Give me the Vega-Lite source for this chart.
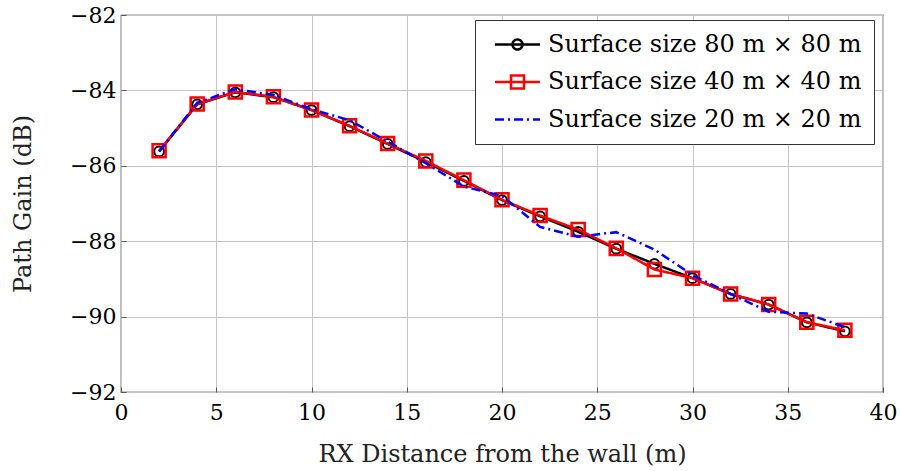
{
  "$schema": "https://vega.github.io/schema/vega-lite/v6.json",
  "width": 762,
  "height": 377,
  "autosize": {"type": "none"},
  "padding": {"left": 121, "top": 15, "right": 18, "bottom": 79},
  "background": "white",
  "config": {
    "font": "DejaVu Serif",
    "view": {"stroke": "#222", "strokeWidth": 1.2},
    "axis": {
      "labelFont": "DejaVu Serif",
      "titleFont": "DejaVu Serif",
      "labelFontSize": 22,
      "titleFontSize": 24,
      "labelColor": "#000",
      "titleColor": "#222",
      "titleFontWeight": "normal",
      "gridColor": "#c4c4c4",
      "gridWidth": 1,
      "domain": false,
      "tickColor": "#555",
      "tickSize": -5,
      "tickWidth": 1
    },
    "legend": {
      "labelFont": "DejaVu Serif",
      "labelFontSize": 24,
      "labelColor": "#000",
      "labelLimit": 0
    }
  },
  "data": {
    "values": [
      {"x": 2, "gain": -85.62, "series": "Surface size 80 m × 80 m"},
      {"x": 4, "gain": -84.37, "series": "Surface size 80 m × 80 m"},
      {"x": 6, "gain": -84.05, "series": "Surface size 80 m × 80 m"},
      {"x": 8, "gain": -84.18, "series": "Surface size 80 m × 80 m"},
      {"x": 10, "gain": -84.52, "series": "Surface size 80 m × 80 m"},
      {"x": 12, "gain": -84.95, "series": "Surface size 80 m × 80 m"},
      {"x": 14, "gain": -85.42, "series": "Surface size 80 m × 80 m"},
      {"x": 16, "gain": -85.9, "series": "Surface size 80 m × 80 m"},
      {"x": 18, "gain": -86.4, "series": "Surface size 80 m × 80 m"},
      {"x": 20, "gain": -86.91, "series": "Surface size 80 m × 80 m"},
      {"x": 22, "gain": -87.34, "series": "Surface size 80 m × 80 m"},
      {"x": 24, "gain": -87.75, "series": "Surface size 80 m × 80 m"},
      {"x": 26, "gain": -88.2, "series": "Surface size 80 m × 80 m"},
      {"x": 28, "gain": -88.6, "series": "Surface size 80 m × 80 m"},
      {"x": 30, "gain": -88.98, "series": "Surface size 80 m × 80 m"},
      {"x": 32, "gain": -89.4, "series": "Surface size 80 m × 80 m"},
      {"x": 34, "gain": -89.68, "series": "Surface size 80 m × 80 m"},
      {"x": 36, "gain": -90.15, "series": "Surface size 80 m × 80 m"},
      {"x": 38, "gain": -90.39, "series": "Surface size 80 m × 80 m"},
      {"x": 2, "gain": -85.6, "series": "Surface size 40 m × 40 m"},
      {"x": 4, "gain": -84.36, "series": "Surface size 40 m × 40 m"},
      {"x": 6, "gain": -84.04, "series": "Surface size 40 m × 40 m"},
      {"x": 8, "gain": -84.17, "series": "Surface size 40 m × 40 m"},
      {"x": 10, "gain": -84.52, "series": "Surface size 40 m × 40 m"},
      {"x": 12, "gain": -84.94, "series": "Surface size 40 m × 40 m"},
      {"x": 14, "gain": -85.41, "series": "Surface size 40 m × 40 m"},
      {"x": 16, "gain": -85.87, "series": "Surface size 40 m × 40 m"},
      {"x": 18, "gain": -86.38, "series": "Surface size 40 m × 40 m"},
      {"x": 20, "gain": -86.9, "series": "Surface size 40 m × 40 m"},
      {"x": 22, "gain": -87.32, "series": "Surface size 40 m × 40 m"},
      {"x": 24, "gain": -87.69, "series": "Surface size 40 m × 40 m"},
      {"x": 26, "gain": -88.19, "series": "Surface size 40 m × 40 m"},
      {"x": 28, "gain": -88.75, "series": "Surface size 40 m × 40 m"},
      {"x": 30, "gain": -88.98, "series": "Surface size 40 m × 40 m"},
      {"x": 32, "gain": -89.4, "series": "Surface size 40 m × 40 m"},
      {"x": 34, "gain": -89.68, "series": "Surface size 40 m × 40 m"},
      {"x": 36, "gain": -90.15, "series": "Surface size 40 m × 40 m"},
      {"x": 38, "gain": -90.36, "series": "Surface size 40 m × 40 m"},
      {"x": 2, "gain": -85.62, "series": "Surface size 20 m × 20 m"},
      {"x": 4, "gain": -84.33, "series": "Surface size 20 m × 20 m"},
      {"x": 6, "gain": -83.97, "series": "Surface size 20 m × 20 m"},
      {"x": 8, "gain": -84.12, "series": "Surface size 20 m × 20 m"},
      {"x": 10, "gain": -84.5, "series": "Surface size 20 m × 20 m"},
      {"x": 12, "gain": -84.79, "series": "Surface size 20 m × 20 m"},
      {"x": 14, "gain": -85.36, "series": "Surface size 20 m × 20 m"},
      {"x": 16, "gain": -85.93, "series": "Surface size 20 m × 20 m"},
      {"x": 18, "gain": -86.55, "series": "Surface size 20 m × 20 m"},
      {"x": 20, "gain": -86.8, "series": "Surface size 20 m × 20 m"},
      {"x": 22, "gain": -87.62, "series": "Surface size 20 m × 20 m"},
      {"x": 24, "gain": -87.88, "series": "Surface size 20 m × 20 m"},
      {"x": 26, "gain": -87.76, "series": "Surface size 20 m × 20 m"},
      {"x": 28, "gain": -88.22, "series": "Surface size 20 m × 20 m"},
      {"x": 30, "gain": -88.9, "series": "Surface size 20 m × 20 m"},
      {"x": 32, "gain": -89.4, "series": "Surface size 20 m × 20 m"},
      {"x": 34, "gain": -89.87, "series": "Surface size 20 m × 20 m"},
      {"x": 36, "gain": -89.92, "series": "Surface size 20 m × 20 m"},
      {"x": 38, "gain": -90.28, "series": "Surface size 20 m × 20 m"}
    ]
  },
  "encoding": {
    "x": {
      "field": "x", "type": "quantitative",
      "scale": {"domain": [0, 40], "nice": false, "zero": false},
      "axis": {"values": [0, 5, 10, 15, 20, 25, 30, 35, 40], "title": "RX Distance from the wall (m)", "labelPadding": 15, "titlePadding": 19, "labelFlush": false}
    },
    "y": {
      "field": "gain", "type": "quantitative",
      "scale": {"domain": [-92, -82], "nice": false, "zero": false},
      "axis": {"values": [-92, -90, -88, -86, -84, -82], "title": "Path Gain (dB)", "labelPadding": 10, "titlePadding": 34, "labelFlush": false}
    }
  },
  "layer": [
    {
      "mark": {"type": "point", "filled": false, "opacity": 0, "strokeWidth": 2.5},
      "encoding": {
        "color": {
          "field": "series", "type": "nominal",
          "scale": {"domain": ["Surface size 80 m × 80 m", "Surface size 40 m × 40 m", "Surface size 20 m × 20 m"], "range": ["#000000", "#ff0000", "#0000ff"]},
          "legend": {"orient": "none", "legendX": 354, "legendY": 5, "title": null, "symbolSize": 506, "symbolStrokeWidth": 2.5, "padding": 12, "symbolOffset": 18, "labelOffset": 18, "rowPadding": 12.5, "fillColor": "white", "strokeColor": "#333", "symbolOpacity": 1, "symbolFillColor": "transparent"}
        },
        "shape": {
          "field": "series", "type": "nominal",
          "scale": {"domain": ["Surface size 80 m × 80 m", "Surface size 40 m × 40 m", "Surface size 20 m × 20 m"], "range": ["M-2,0H2M-0.444,0A0.444,0.444,0,1,0,0.444,0A0.444,0.444,0,1,0,-0.444,0", "M-2,0H2M-0.578,-0.578H0.578V0.578H-0.578Z", "M-2,0H2"]}
        },
        "strokeDash": {
          "field": "series", "type": "nominal",
          "scale": {"domain": ["Surface size 80 m × 80 m", "Surface size 40 m × 40 m", "Surface size 20 m × 20 m"], "range": [[1, 0], [1, 0], [9, 4, 2, 4]]}
        }
      }
    },
    {
      "transform": [{"filter": "datum.series === 'Surface size 80 m × 80 m'"}],
      "mark": {"type": "line", "strokeWidth": 2.5},
      "encoding": {
        "color": {"field": "series", "type": "nominal"},
        "strokeDash": {"field": "series", "type": "nominal"}
      }
    },
    {
      "transform": [{"filter": "datum.series === 'Surface size 80 m × 80 m'"}],
      "mark": {"type": "point", "shape": "circle", "filled": false, "strokeWidth": 2, "size": 95, "opacity": 1},
      "encoding": {
        "color": {"field": "series", "type": "nominal"}
      }
    },
    {
      "transform": [{"filter": "datum.series === 'Surface size 40 m × 40 m'"}],
      "mark": {"type": "line", "strokeWidth": 2.5},
      "encoding": {
        "color": {"field": "series", "type": "nominal"},
        "strokeDash": {"field": "series", "type": "nominal"}
      }
    },
    {
      "transform": [{"filter": "datum.series === 'Surface size 40 m × 40 m'"}],
      "mark": {"type": "point", "shape": "square", "filled": false, "strokeWidth": 2.5, "size": 170, "opacity": 1},
      "encoding": {
        "color": {"field": "series", "type": "nominal"}
      }
    },
    {
      "transform": [{"filter": "datum.series === 'Surface size 20 m × 20 m'"}],
      "mark": {"type": "line", "strokeWidth": 2.5},
      "encoding": {
        "color": {"field": "series", "type": "nominal"},
        "strokeDash": {"field": "series", "type": "nominal"}
      }
    }
  ]
}
